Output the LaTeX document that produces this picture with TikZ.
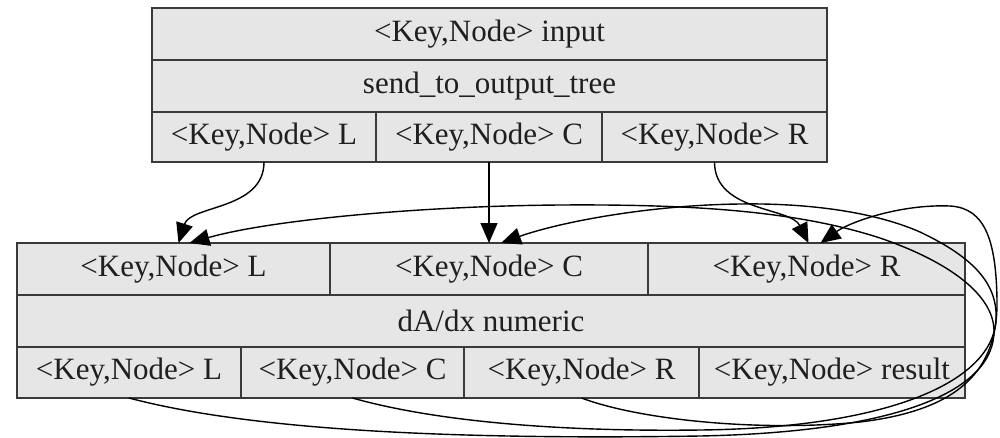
\documentclass[tikz,border=0pt]{standalone}
\usepackage{fontspec}
\setmainfont{Liberation Serif}
\usetikzlibrary{arrows.meta}
\definecolor{cellfill}{HTML}{E6E6E6}
\definecolor{celledge}{HTML}{3A3A3A}
\begin{document}
\begin{tikzpicture}[x=1pt,y=-1pt,
  cell/.style={draw=celledge, fill=cellfill, line width=1.8pt, inner sep=0pt,
    outer sep=0pt, font=\fontsize{31}{37}\selectfont, text=black!88},
  link/.style={line width=1.4pt, -{Triangle[length=20pt,width=17pt]}}]
\useasboundingbox (0,0) rectangle (1000,437);

% upper record: send_to_output_tree
\node[cell, minimum width=675, minimum height=52] (tin) at (489.5,34) {<Key,Node> input};
\node[cell, minimum width=675, minimum height=52] (tfn) at (489.5,86) {send\_to\_output\_tree};
\node[cell, minimum width=224, minimum height=50] (tL) at (264,137) {<Key,Node> L};
\node[cell, minimum width=226, minimum height=50] (tC) at (489,137) {<Key,Node> C};
\node[cell, minimum width=225, minimum height=50] (tR) at (714.5,137) {<Key,Node> R};

% lower record: dA/dx numeric
\node[cell, minimum width=313, minimum height=52] (bL) at (173.5,269) {<Key,Node> L};
\node[cell, minimum width=318, minimum height=52] (bC) at (489,269) {<Key,Node> C};
\node[cell, minimum width=317, minimum height=52] (bR) at (806.5,269) {<Key,Node> R};
\node[cell, minimum width=948, minimum height=52] (bfn) at (491,321) {dA/dx numeric};
\node[cell, minimum width=224, minimum height=51] (oL) at (129,372.5) {<Key,Node> L};
\node[cell, minimum width=223, minimum height=51] (oC) at (352.5,372.5) {<Key,Node> C};
\node[cell, minimum width=235, minimum height=51] (oR) at (581.5,372.5) {<Key,Node> R};
\node[cell, minimum width=266, minimum height=51] (ores) at (832,372.5) {<Key,Node> result};

% outputs of the upper record into the lower one
\draw[link] (tL.south) .. controls +(0,48) and +(12,-38) .. ([xshift=5pt]bL.north);
\draw[link] (tC.south) -- (bC.north);
\draw[link] (tR.south) .. controls +(0,50) and +(-18,-36) .. ([xshift=2pt]bR.north);

% feedback loops of the lower record
\draw[link] (oL.south) .. controls (250,430) and (450,440) .. (700,436)
  .. controls (900,432) and (995,390) .. (994,330)
  .. controls (993,295) and (950,262) .. (880,238)
  .. controls (800,212) and (700,204) .. (560,205)
  .. controls (420,206) and (270,220) .. ([xshift=16pt]bL.north);
\draw[link] (oC.south) .. controls (430,420) and (550,432) .. (700,430)
  .. controls (880,428) and (992,385) .. (996,320)
  .. controls (998,285) and (975,258) .. (920,232)
  .. controls (870,210) and (800,203) .. (740,204)
  .. controls (650,205) and (560,222) .. ([xshift=12pt]bC.north);
\draw[link] (oR.south) .. controls (640,420) and (760,432) .. (860,422)
  .. controls (960,410) and (998,370) .. (997,300)
  .. controls (996,240) and (985,208) .. (950,206)
  .. controls (900,204) and (850,222) .. ([xshift=14pt]bR.north);
\end{tikzpicture}
\end{document}
